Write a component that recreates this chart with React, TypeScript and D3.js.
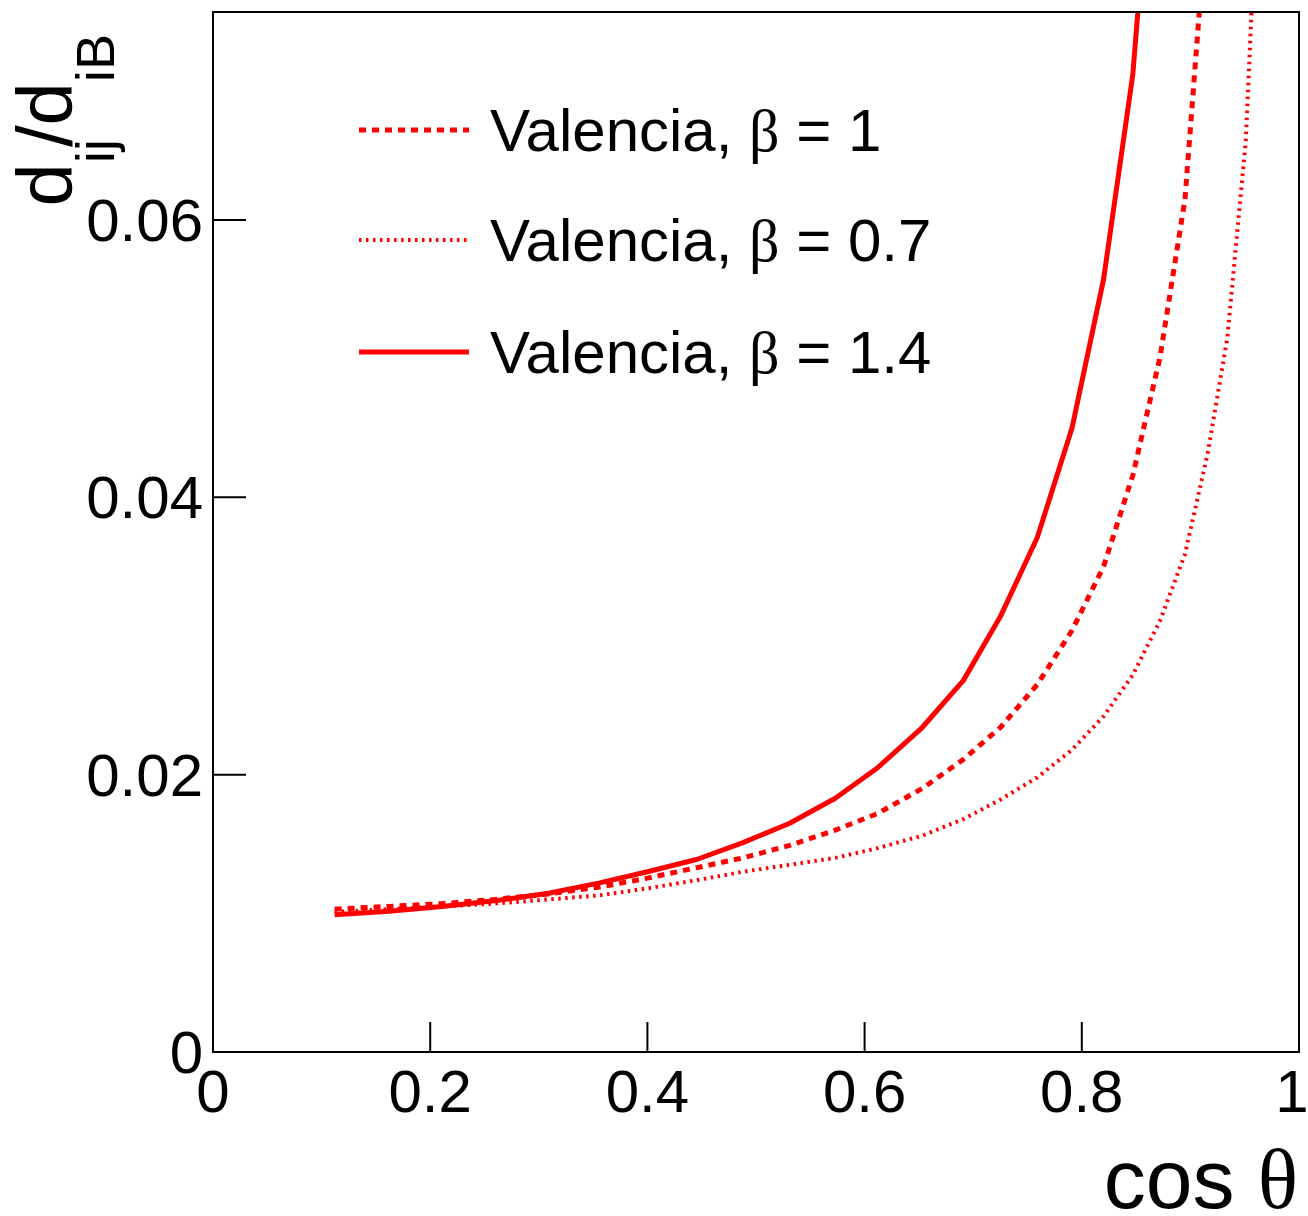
import React from 'react';
import * as d3 from 'd3';

// beta = 1 (dashed)
const cosBeta10 = [0.112, 0.162, 0.211, 0.259, 0.309, 0.356, 0.400, 0.446, 0.488, 0.531, 0.573, 0.612, 0.653, 0.691, 0.725, 0.759, 0.791, 0.820, 0.847, 0.872, 0.895, 0.916];
const valBeta10 = [0.0103, 0.0105, 0.0107, 0.0110, 0.0114, 0.0119, 0.01254, 0.0133, 0.0140, 0.0149, 0.0160, 0.0172, 0.0190, 0.0211, 0.0234, 0.0265, 0.0304, 0.0350, 0.0416, 0.0501, 0.0615, 0.083];

// beta = 0.7 (dotted)
const cosBeta07 = [0.112, 0.162, 0.211, 0.259, 0.309, 0.356, 0.400, 0.446, 0.488, 0.531, 0.573, 0.612, 0.653, 0.691, 0.725, 0.759, 0.791, 0.820, 0.847, 0.872, 0.895, 0.916, 0.934, 0.951, 0.966];
const valBeta07 = [0.0101, 0.0103, 0.0105, 0.0107, 0.0110, 0.0113, 0.0118, 0.0124, 0.0130, 0.0135, 0.0140, 0.0147, 0.0156, 0.0168, 0.0182, 0.0198, 0.0218, 0.0242, 0.0272, 0.0311, 0.0359, 0.0432, 0.0515, 0.0657, 0.092];

// beta = 1.4 (solid)
const cosBeta14 = [0.112, 0.162, 0.211, 0.259, 0.309, 0.356, 0.400, 0.446, 0.488, 0.531, 0.573, 0.612, 0.653, 0.691, 0.725, 0.759, 0.791, 0.820, 0.847, 0.872];
const valBeta14 = [0.0099, 0.01015, 0.0105, 0.0109, 0.01145, 0.0122, 0.0130, 0.0139, 0.0151, 0.0165, 0.0183, 0.0205, 0.0234, 0.0268, 0.0314, 0.0371, 0.0450, 0.0557, 0.0705, 0.095];

const xTicks = [0, 0.2, 0.4, 0.6, 0.8, 1];
const xTickLabels = ['0', '0.2', '0.4', '0.6', '0.8', '1'];
const yTicks = [0, 0.02, 0.04, 0.06];
const yTickLabels = ['0', '0.02', '0.04', '0.06'];
const legendBetas = ['1', '0.7', '1.4'];

const SANS = '"Liberation Sans", Arial, Helvetica, sans-serif';
const SERIF = '"Liberation Serif", "Times New Roman", serif';

export default function App() {
  const W = 1308, H = 1216;
  const left = 213, right = 1299, top = 12, bottom = 1052;
  const x = d3.scaleLinear().domain([0, 1]).range([left, right]);
  const y = d3.scaleLinear().domain([0, 0.075]).range([bottom, top]);
  const line = d3.line<[number, number]>().x(d => x(d[0])).y(d => y(d[1]));

  const series = [
    { xs: cosBeta10, ys: valBeta10, width: 5, dash: '7 6' },
    { xs: cosBeta07, ys: valBeta07, width: 4, dash: '2.5 4.5' },
    { xs: cosBeta14, ys: valBeta14, width: 5, dash: undefined as string | undefined },
  ];

  const legendY = [130, 240, 352];

  return (
    <svg width={W} height={H} style={{ position: 'absolute', left: 0, top: 0, background: '#fff' }} fontFamily={SANS}>
      <rect x={0} y={0} width={W} height={H} fill="#fff" />
      <defs>
        <clipPath id="plotclip">
          <rect x={left} y={top} width={right - left} height={bottom - top} />
        </clipPath>
      </defs>

      {/* curves */}
      <g clipPath="url(#plotclip)">
        {series.map((s, i) => (
          <path key={i}
            d={line(s.xs.map((v, j) => [v, s.ys[j]] as [number, number])) || ''}
            fill="none" stroke="#ff0000" strokeWidth={s.width}
            strokeDasharray={s.dash} strokeLinejoin="round" />
        ))}
      </g>

      {/* frame */}
      <rect x={left} y={top} width={right - left} height={bottom - top} fill="none" stroke="#000" strokeWidth={2} />

      {/* x ticks */}
      {xTicks.map((t, i) => (
        <g key={'xt' + i}>
          <line x1={x(t)} x2={x(t)} y1={bottom} y2={bottom - 30} stroke="#000" strokeWidth={2} />
          <text x={Math.min(x(t), W - 16)} y={1112} fontSize={60} textAnchor="middle" fill="#000">{xTickLabels[i]}</text>
        </g>
      ))}

      {/* y ticks */}
      {yTicks.map((t, i) => (
        <g key={'yt' + i}>
          <line x1={left} x2={left + 33} y1={y(t)} y2={y(t)} stroke="#000" strokeWidth={2} />
          <text x={203} y={y(t) + 21} fontSize={60} textAnchor="end" fill="#000">{yTickLabels[i]}</text>
        </g>
      ))}

      {/* x title */}
      <text x={1298} y={1208} fontSize={84} textAnchor="end" fill="#000">
        <tspan>cos </tspan><tspan fontFamily={SERIF}>θ</tspan>
      </text>

      {/* y title */}
      <text transform="translate(72,34) rotate(-90)" textAnchor="end" fontSize={78} fill="#000">
        <tspan>d</tspan>
        <tspan fontSize={54} dy={42}>ij</tspan>
        <tspan dy={-42} dx={-8}>/d</tspan>
        <tspan fontSize={54} dy={42}>iB</tspan>
      </text>

      {/* legend */}
      {series.map((s, i) => (
        <g key={'lg' + i}>
          <line x1={359} x2={469} y1={legendY[i]} y2={legendY[i]} stroke="#ff0000"
            strokeWidth={s.width} strokeDasharray={s.dash} />
          <text x={490} y={legendY[i] + 21} fontSize={60} fill="#000">
            <tspan>Valencia, </tspan>
            <tspan fontFamily={SERIF}>β</tspan>
            <tspan> = {legendBetas[i]}</tspan>
          </text>
        </g>
      ))}
    </svg>
  );
}
